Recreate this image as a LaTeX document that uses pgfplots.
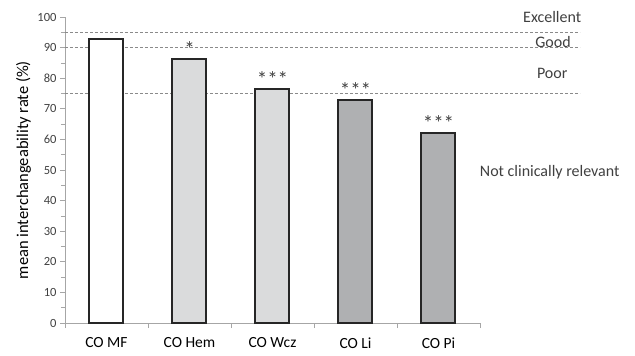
\documentclass[border=0pt]{standalone}
\usepackage{fontspec}
\setmainfont{Carlito}
\usepackage{pgfplots}
\pgfplotsset{compat=1.18}

\definecolor{axisgray}{HTML}{A6A6A6}
\definecolor{textgray}{HTML}{404040}
\definecolor{edgedark}{HTML}{262626}
\definecolor{lightbar}{HTML}{DADBDC}
\definecolor{darkbar}{HTML}{AFB0B2}
\definecolor{refline}{HTML}{8A8A8A}

\begin{document}
\begin{tikzpicture}
\begin{axis}[
  scale only axis,
  width=415pt, height=306pt,
  xmin=-0.5, xmax=4.5,
  ymin=0, ymax=100,
  clip=false,
  axis x line*=bottom,
  axis y line*=left,
  axis line style={axisgray, line width=0.8pt},
  ytick={0,10,...,100},
  minor y tick num=1,
  xtick={-0.5,0.5,...,4.5},
  x tick label as interval,
  xticklabels={CO MF, CO Hem, CO Wcz, CO Li, CO Pi},
  tick align=outside,
  major tick length=5pt,
  minor tick length=4pt,
  tick style={axisgray, line width=0.8pt},
  x tick label style={font=\fontsize{15.5}{18}\selectfont, text=black, yshift=-6pt},
  y tick label style={font=\fontsize{12.5}{14}\selectfont, text=textgray},
  /pgf/number format/assume math mode=true,
  ylabel={mean interchangeability rate (\%)},
  ylabel style={font=\fontsize{16.5}{18}\selectfont, at={(axis description cs:-0.1,0.5)}, anchor=center},
  ybar, bar width=34pt, bar shift=0pt,
  nodes near coords,
  point meta=explicit symbolic,
  every node near coord/.append style={font=\fontsize{21}{22}\selectfont, text=textgray, yshift=-2pt},
]
% interpretation thresholds
\addplot[sharp plot, refline, dash pattern=on 3pt off 2pt, line width=0.7pt, nodes near coords={}] coordinates {(-0.5,95) (5.705,95)};
\addplot[sharp plot, refline, dash pattern=on 3pt off 2pt, line width=0.7pt, nodes near coords={}] coordinates {(-0.5,90) (5.705,90)};
\addplot[sharp plot, refline, dash pattern=on 3pt off 2pt, line width=0.7pt, nodes near coords={}] coordinates {(-0.5,75) (5.705,75)};

% bars
\addplot[fill=white, draw=edgedark, line width=2pt] coordinates {(0,92.8) []};
\addplot[fill=lightbar, draw=edgedark, line width=2pt] coordinates {(1,86.3) [*] (2,76.4) [***]};
\addplot[fill=darkbar, draw=edgedark, line width=2pt] coordinates {(3,72.9) [***] (4,62.2) [***]};

% threshold labels
\node[font=\fontsize{16}{18}\selectfont, text=textgray] at (axis cs:5.37,100) {Excellent};
\node[font=\fontsize{16}{18}\selectfont, text=textgray] at (axis cs:5.38,91.8) {Good};
\node[font=\fontsize{16}{18}\selectfont, text=textgray] at (axis cs:5.37,81.7) {Poor};
\node[font=\fontsize{16}{18}\selectfont, text=textgray] at (axis cs:5.34,49.3) {Not clinically relevant};

\coordinate (bl) at (rel axis cs:-0.1566,-0.1046);
\coordinate (tr) at (rel axis cs:1.3735,1.0556);
\end{axis}
\path (bl) rectangle (tr);
\end{tikzpicture}
\end{document}
